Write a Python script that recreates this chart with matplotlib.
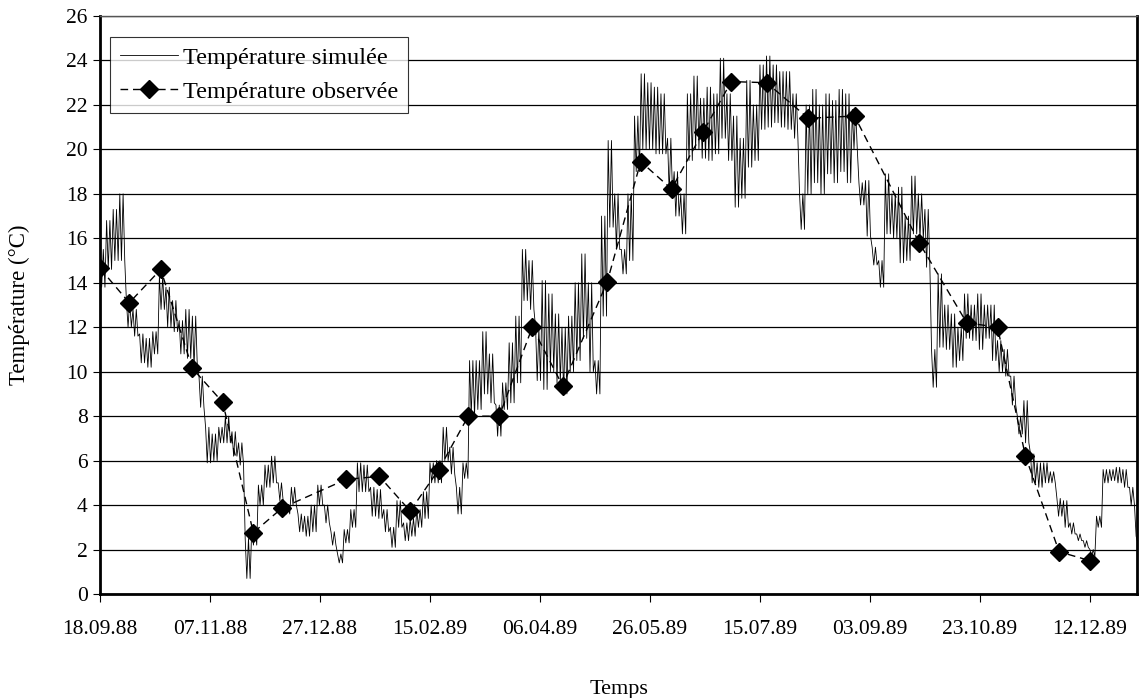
import numpy as np
import pandas as pd
import matplotlib
matplotlib.use("Agg")
import matplotlib.pyplot as plt
import matplotlib.dates as mdates

plt.rcParams['font.family'] = ['Liberation Serif', 'DejaVu Serif']

# simulated temperature, read off as upper / lower envelope every 3 days from 18.09.88
start = pd.Timestamp("1988-09-18")
sim_step = 3
sim_hi = [15.5, 16.8, 17.3, 18.0, 13.2, 12.8, 11.7, 11.5, 11.8, 14.3,
          13.8, 13.2, 12.3, 12.8, 12.5, 9.8, 7.5, 7.2, 7.5, 8.0,
          7.3, 6.8, 2.5, 3.0, 4.9, 5.8, 6.2, 5.0, 4.0, 4.8,
          3.6, 3.5, 4.0, 4.9, 4.0, 2.8, 1.8, 2.9, 3.8, 5.9,
          5.8, 4.8, 4.7, 3.8, 3.0, 4.2, 3.2, 3.4, 3.8, 4.6,
          5.9, 6.0, 7.5, 6.6, 4.8, 5.9, 10.5, 10.5, 11.8, 10.8,
          8.5, 9.5, 11.3, 12.5, 15.5, 15.0, 12.0, 14.1, 13.5, 12.6,
          12.0, 12.5, 14.0, 15.3, 14.0, 10.5, 17.0, 20.4, 18.0, 15.5,
          18.0, 21.5, 23.4, 23.0, 22.8, 22.5, 20.5, 19.0, 18.0, 22.5,
          23.3, 22.3, 22.8, 22.5, 24.1, 22.5, 21.5, 20.5, 23.1, 22.0,
          23.8, 24.2, 23.8, 23.5, 23.5, 22.5, 18.0, 22.0, 22.7, 22.0,
          22.5, 22.2, 22.7, 22.5, 21.8, 18.5, 18.6, 15.6, 15.0, 18.9,
          18.0, 18.3, 17.0, 18.8, 18.0, 17.3, 11.0, 14.4, 13.0, 12.6,
          12.0, 13.5, 13.0, 13.5, 13.0, 13.0, 11.4, 11.0, 9.8, 8.0,
          8.7, 6.3, 5.9, 5.9, 5.5, 4.3, 4.2, 3.2, 2.7, 2.4,
          2.0, 3.5, 5.6, 5.6, 5.7, 5.6, 4.8, 2.6]
sim_lo = [13.8, 14.6, 15.0, 15.0, 12.0, 11.6, 10.4, 10.2, 10.8, 12.8,
          12.0, 11.8, 10.8, 10.6, 10.2, 8.4, 5.9, 6.0, 6.8, 6.8,
          6.2, 5.8, 0.7, 2.2, 4.0, 4.8, 5.0, 4.2, 3.6, 4.0,
          2.8, 2.6, 2.8, 4.0, 3.2, 2.2, 1.4, 2.3, 3.0, 4.6,
          4.6, 3.5, 3.4, 2.8, 2.1, 3.0, 2.4, 2.6, 3.0, 3.4,
          5.0, 5.0, 6.0, 5.4, 3.6, 5.2, 8.0, 8.3, 9.0, 8.6,
          7.1, 8.3, 8.6, 9.5, 13.2, 12.8, 9.6, 9.2, 10.0, 9.5,
          9.0, 10.0, 10.5, 11.5, 10.0, 9.0, 12.5, 16.5, 15.5, 14.4,
          15.0, 19.0, 20.0, 20.0, 19.8, 19.8, 18.0, 17.0, 16.2, 19.5,
          20.0, 19.6, 19.5, 19.8, 20.5, 19.5, 17.4, 17.8, 19.2, 19.5,
          20.9, 21.0, 21.2, 21.0, 20.9, 20.5, 16.4, 18.0, 18.5, 18.0,
          18.9, 18.5, 19.0, 18.5, 20.0, 17.5, 16.1, 14.8, 13.8, 16.2,
          16.0, 14.9, 15.0, 16.2, 16.0, 14.7, 9.3, 11.1, 11.0, 10.2,
          10.5, 11.5, 11.4, 11.0, 11.5, 10.5, 10.0, 9.8, 8.5, 7.2,
          6.8, 5.0, 4.8, 5.0, 5.0, 3.5, 3.0, 2.7, 2.4, 2.1,
          1.7, 3.0, 5.0, 5.1, 5.0, 4.8, 4.0, 2.3]

# observed temperature (days after 18.09.88)
obs_day = [0, 13.3, 27.6, 42, 55.8, 69.7, 82.9, 112, 127, 141,
           154, 167.4, 181.5, 196.5, 210.3, 230.6, 245.8, 259.8, 274.2, 287,
           303, 322, 343, 372.4, 394, 408, 420.7, 436, 450]
obs_val = [14.65, 13.1, 14.6, 10.15, 8.62, 2.76, 3.88, 5.16, 5.29, 3.73,
           5.6, 8.0, 8.0, 12.0, 9.37, 14.05, 19.45, 18.22, 20.8, 23.05,
           23.0, 21.4, 21.5, 15.8, 12.2, 12.0, 6.2, 1.9, 1.5]

tick_days = [0, 50, 100, 150, 200, 250, 300, 350, 400, 450]

# daily swing between upper and lower envelope, two swings per 3-day block
sim_days = np.arange(len(sim_hi)) * sim_step
offs = np.array([0, 0.75, 1.5, 2.25])
zz_days = (sim_days[:, None] + offs[None, :]).ravel()
zz_vals = np.column_stack([sim_hi, sim_lo, sim_hi, sim_lo]).ravel()
zz_dates = start + pd.to_timedelta(zz_days, unit="D")
obs_dates = start + pd.to_timedelta(obs_day, unit="D")

fig = plt.figure(figsize=(11.44, 6.98), dpi=100)
ax = fig.add_axes([100 / 1144, 1 - 594 / 698, 1037 / 1144, 578 / 698])

ax.plot(zz_dates, zz_vals, color="black", lw=0.6, label="Température simulée", zorder=3)
ax.plot(obs_dates, obs_val, color="black", lw=1.0, ls=(0, (5.5, 3.5)), marker="D",
        markersize=9, label="Température observée", zorder=4)

ax.set_ylim(0, 26)
ax.set_yticks(np.arange(0, 27, 2))
ax.set_xlim(start, start + pd.Timedelta(days=471.4))
ax.set_xticks([start + pd.Timedelta(days=d) for d in tick_days])
ax.xaxis.set_major_formatter(mdates.DateFormatter("%d.%m.%y"))
ax.yaxis.grid(True, color="black", lw=0.9)
ax.set_axisbelow(True)

ax.tick_params(axis="both", direction="out", labelsize=15.5, color="black")
ax.tick_params(axis="x", length=6, pad=13)
ax.tick_params(axis="y", length=5, pad=4)
for s in ["left", "bottom", "right"]:
    ax.spines[s].set_linewidth(2)
ax.spines["top"].set_linewidth(1)
ax.spines["top"].set_color("#555555")

ax.set_ylabel("Température (°C)", fontsize=16.5, labelpad=26)
ax.set_xlabel("Temps", fontsize=16, labelpad=29)

leg = ax.legend(loc="upper left", bbox_to_anchor=(10 / 1037, 1 - 21 / 578), fontsize=17.5,
                frameon=True, fancybox=False, edgecolor="black", borderaxespad=0,
                handlelength=2.4, borderpad=0.4, labelspacing=0.5, handletextpad=0.2)
leg.get_frame().set_linewidth(0.8)

fig.savefig("out.png", dpi=100)
